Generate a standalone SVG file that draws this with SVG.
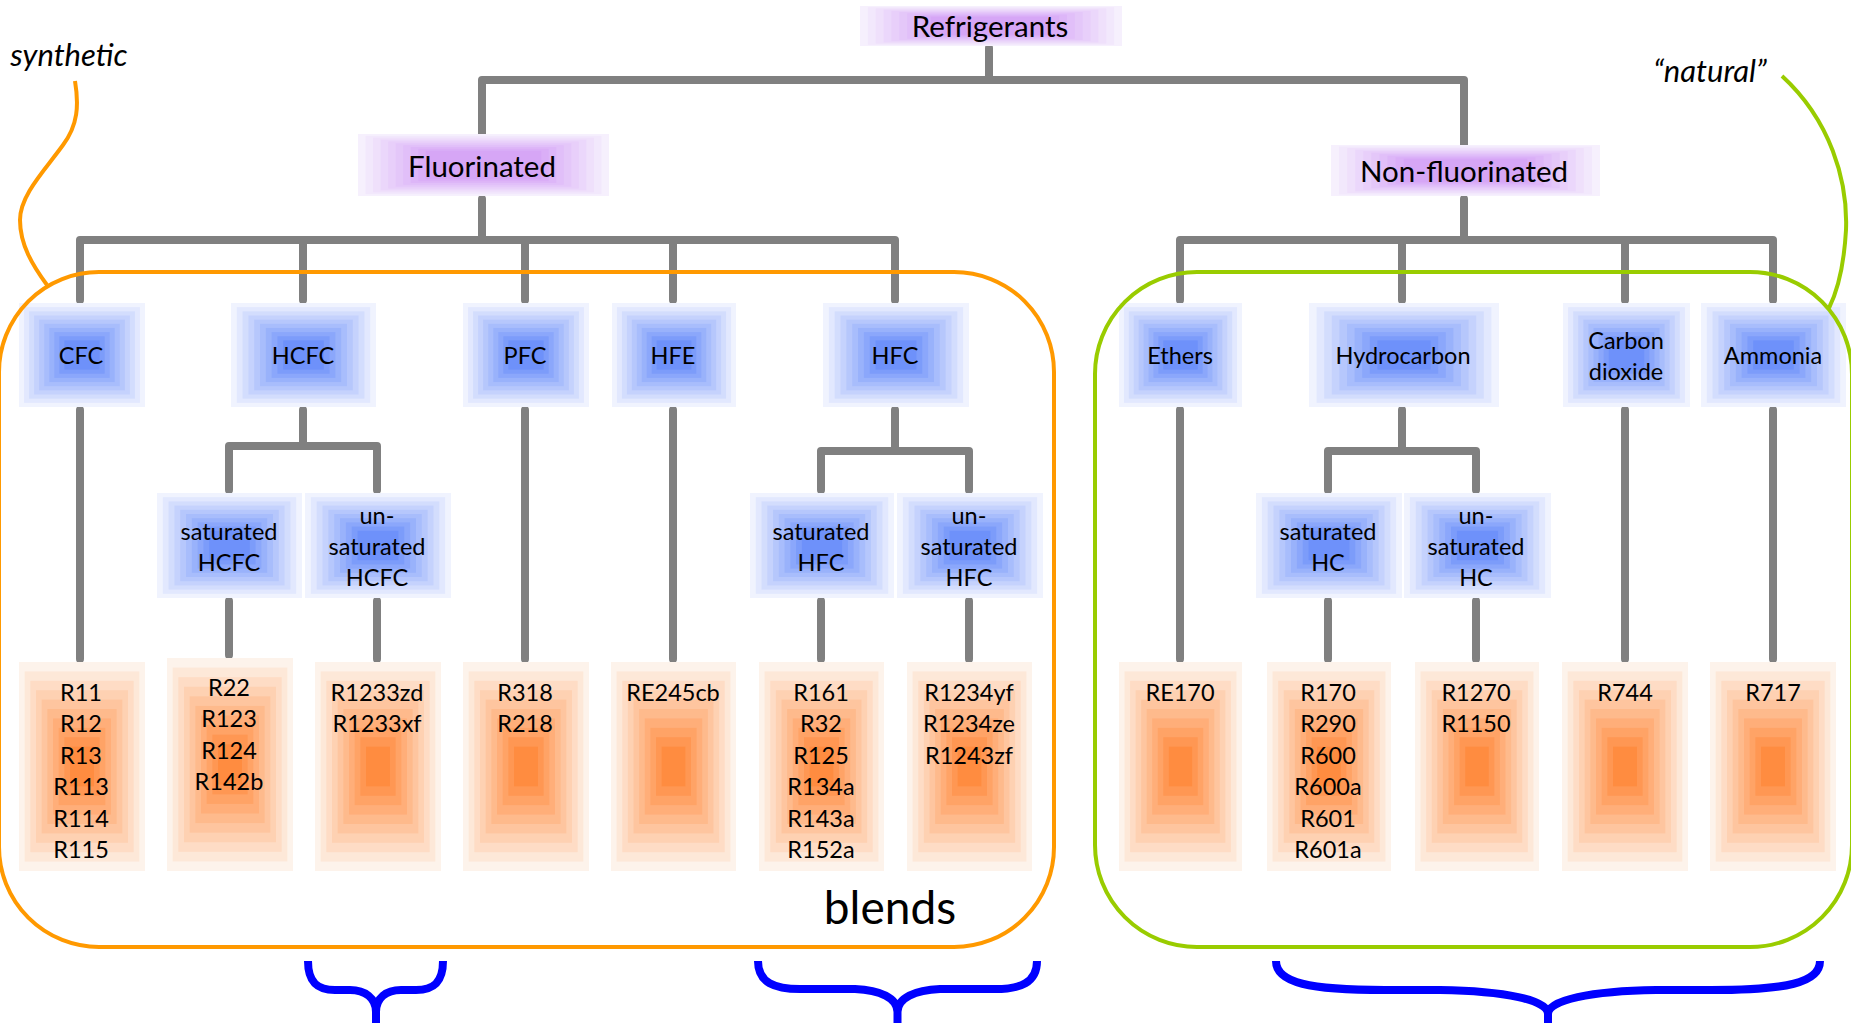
<svg xmlns="http://www.w3.org/2000/svg" xmlns:xlink="http://www.w3.org/1999/xlink" width="1851" height="1023" viewBox="0 0 1851 1023">
<style>
.t{font-family:Lato,'Liberation Sans',sans-serif;font-size:23.5px;fill:#000;text-anchor:middle}
.big{font-size:29.5px}
.ann{font-style:italic;font-size:31px}
.blends{font-size:46px}
.conn{stroke:#808080;stroke-width:8;fill:none;stroke-linecap:round;stroke-linejoin:round}
.fo{fill:none;stroke:#FF9900;stroke-width:4}
.fg{fill:none;stroke:#99CC00;stroke-width:4}
.brace{fill:none;stroke:#0000FF;stroke-width:8}
</style>
<defs>
<symbol id="gOrange" viewBox="0 0 100 100" preserveAspectRatio="none">
<rect x="0" y="0" width="100" height="100" fill="#FDF3EB"/>
<rect x="4.5" y="4.5" width="91" height="91" fill="#FDE8D8"/>
<rect x="9" y="9" width="82" height="82" fill="#FEDCC5"/>
<rect x="13.5" y="13.5" width="73" height="73" fill="#FED1B2"/>
<rect x="18" y="18" width="64" height="64" fill="#FEC59F"/>
<rect x="22.5" y="22.5" width="55" height="55" fill="#FEBA8C"/>
<rect x="27" y="27" width="46" height="46" fill="#FFAE79"/>
<rect x="31.5" y="31.5" width="37" height="37" fill="#FFA366"/>
<rect x="36" y="36" width="28" height="28" fill="#FF9753"/>
<rect x="40.5" y="40.5" width="19" height="19" fill="#FF8C40"/>
</symbol>
<symbol id="gBlue" viewBox="0 0 100 100" preserveAspectRatio="none">
<rect x="0" y="0" width="100" height="100" fill="#F0F3FE"/>
<rect x="4" y="4" width="92" height="92" fill="#E2E8FE"/>
<rect x="8" y="8" width="84" height="84" fill="#D3DDFD"/>
<rect x="12" y="12" width="76" height="76" fill="#C5D2FD"/>
<rect x="16" y="16" width="68" height="68" fill="#B6C7FC"/>
<rect x="20" y="20" width="60" height="60" fill="#A8BDFC"/>
<rect x="24" y="24" width="52" height="52" fill="#99B2FB"/>
<rect x="28" y="28" width="44" height="44" fill="#8BA7FB"/>
<rect x="32" y="32" width="36" height="36" fill="#7C9CFA"/>
<rect x="36" y="36" width="28" height="28" fill="#6E91FA"/>
</symbol>
<symbol id="gPurple" viewBox="0 0 100 100" preserveAspectRatio="none">
<rect x="0" y="0" width="100" height="100" fill="#F6F0FD"/>
<rect x="3" y="3" width="94" height="94" fill="#F2E8FC"/>
<rect x="6" y="6" width="88" height="88" fill="#EFE0FB"/>
<rect x="9" y="9" width="82" height="82" fill="#EBD7FB"/>
<rect x="12" y="12" width="76" height="76" fill="#E8CFFA"/>
<rect x="15" y="15" width="70" height="70" fill="#E4C7F9"/>
<rect x="18" y="18" width="64" height="64" fill="#E1BFF9"/>
<rect x="21" y="21" width="58" height="58" fill="#DDB6F8"/>
<rect x="24" y="24" width="52" height="52" fill="#DAAEF7"/>
<rect x="27" y="27" width="46" height="46" fill="#D6A6F6"/>
</symbol>
</defs>
<rect width="1851" height="1023" fill="#FFFFFF"/>

<g id="connectors" class="conn">
<path d="M989 48V80"/>
<path d="M482 137V80H1464V148"/>
<path d="M482 199V240"/>
<path d="M80 300V240H895V300"/>
<path d="M303 240V300M525 240V300M673 240V300"/>
<path d="M1464 199V240"/>
<path d="M1180 300V240H1773V300"/>
<path d="M1402 240V300M1625 240V300"/>
<path d="M80 410V659M525 410V659M673 410V659M1180 410V659M1625 410V659M1773 410V659"/>
<path d="M303 410V446M229 490V446H377V490"/>
<path d="M229 601V655M377 601V659"/>
<path d="M895 410V451M821 490V451H969V490"/>
<path d="M821 601V659M969 601V659"/>
<path d="M1402 410V451M1328 490V451H1476V490"/>
<path d="M1328 601V659M1476 601V659"/>
</g>

<g id="n-refrigerants"><use href="#gPurple" x="860" y="6" width="262" height="40"/><text class="t big" x="990" y="37">Refrigerants</text></g>
<g id="n-fluorinated"><use href="#gPurple" x="358" y="134" width="251" height="62"/><text class="t big" x="482" y="177">Fluorinated</text></g>
<g id="n-nonfluorinated"><use href="#gPurple" x="1331" y="145" width="269" height="51"/><text class="t big" x="1464" y="182">Non-fluorinated</text></g>

<g id="n-cfc"><use href="#gBlue" x="19" y="303" width="126" height="104"/><text class="t" x="81" y="364">CFC</text></g>
<g id="n-hcfc"><use href="#gBlue" x="231" y="303" width="145" height="104"/><text class="t" x="303" y="364">HCFC</text></g>
<g id="n-pfc"><use href="#gBlue" x="463" y="303" width="126" height="104"/><text class="t" x="525" y="364">PFC</text></g>
<g id="n-hfe"><use href="#gBlue" x="612" y="303" width="124" height="104"/><text class="t" x="673" y="364">HFE</text></g>
<g id="n-hfc"><use href="#gBlue" x="823" y="303" width="146" height="104"/><text class="t" x="895" y="364">HFC</text></g>
<g id="n-ethers"><use href="#gBlue" x="1119" y="303" width="123" height="104"/><text class="t" x="1180" y="364">Ethers</text></g>
<g id="n-hydrocarbon"><use href="#gBlue" x="1309" y="303" width="190" height="104"/><text class="t" x="1403" y="364">Hydrocarbon</text></g>
<g id="n-co2"><use href="#gBlue" x="1563" y="303" width="127" height="104"/><text class="t" x="1626" y="349">Carbon<tspan x="1626" dy="31">dioxide</tspan></text></g>
<g id="n-ammonia"><use href="#gBlue" x="1701" y="303" width="145" height="104"/><text class="t" x="1773" y="364">Ammonia</text></g>

<g id="n-sat-hcfc"><use href="#gBlue" x="157" y="493" width="145" height="105"/><text class="t" x="229" y="540">saturated<tspan x="229" dy="31">HCFC</tspan></text></g>
<g id="n-unsat-hcfc"><use href="#gBlue" x="305" y="493" width="146" height="105"/><text class="t" x="377" y="524">un-<tspan x="377" dy="31">saturated</tspan><tspan x="377" dy="31">HCFC</tspan></text></g>
<g id="n-sat-hfc"><use href="#gBlue" x="750" y="493" width="144" height="105"/><text class="t" x="821" y="540">saturated<tspan x="821" dy="31">HFC</tspan></text></g>
<g id="n-unsat-hfc"><use href="#gBlue" x="897" y="493" width="146" height="105"/><text class="t" x="969" y="524">un-<tspan x="969" dy="31">saturated</tspan><tspan x="969" dy="31">HFC</tspan></text></g>
<g id="n-sat-hc"><use href="#gBlue" x="1256" y="493" width="146" height="105"/><text class="t" x="1328" y="540">saturated<tspan x="1328" dy="31">HC</tspan></text></g>
<g id="n-unsat-hc"><use href="#gBlue" x="1404" y="493" width="147" height="105"/><text class="t" x="1476" y="524">un-<tspan x="1476" dy="31">saturated</tspan><tspan x="1476" dy="31">HC</tspan></text></g>

<g id="r-cfc"><use href="#gOrange" x="19" y="662" width="126" height="209"/><text class="t" x="81" y="701">R11<tspan x="81" dy="31.4">R12</tspan><tspan x="81" dy="31.4">R13</tspan><tspan x="81" dy="31.4">R113</tspan><tspan x="81" dy="31.4">R114</tspan><tspan x="81" dy="31.4">R115</tspan></text></g>
<g id="r-sat-hcfc"><use href="#gOrange" x="167" y="658" width="126" height="213"/><text class="t" x="229" y="696">R22<tspan x="229" dy="31.4">R123</tspan><tspan x="229" dy="31.4">R124</tspan><tspan x="229" dy="31.4">R142b</tspan></text></g>
<g id="r-unsat-hcfc"><use href="#gOrange" x="315" y="662" width="126" height="209"/><text class="t" x="377" y="701">R1233zd<tspan x="377" dy="31.4">R1233xf</tspan></text></g>
<g id="r-pfc"><use href="#gOrange" x="463" y="662" width="126" height="209"/><text class="t" x="525" y="701">R318<tspan x="525" dy="31.4">R218</tspan></text></g>
<g id="r-hfe"><use href="#gOrange" x="611" y="662" width="125" height="209"/><text class="t" x="673" y="701">RE245cb</text></g>
<g id="r-sat-hfc"><use href="#gOrange" x="759" y="662" width="125" height="209"/><text class="t" x="821" y="701">R161<tspan x="821" dy="31.4">R32</tspan><tspan x="821" dy="31.4">R125</tspan><tspan x="821" dy="31.4">R134a</tspan><tspan x="821" dy="31.4">R143a</tspan><tspan x="821" dy="31.4">R152a</tspan></text></g>
<g id="r-unsat-hfc"><use href="#gOrange" x="907" y="662" width="125" height="209"/><text class="t" x="969" y="701">R1234yf<tspan x="969" dy="31.4">R1234ze</tspan><tspan x="969" dy="31.4">R1243zf</tspan></text></g>
<g id="r-ethers"><use href="#gOrange" x="1119" y="662" width="123" height="209"/><text class="t" x="1180" y="701">RE170</text></g>
<g id="r-sat-hc"><use href="#gOrange" x="1267" y="662" width="124" height="209"/><text class="t" x="1328" y="701">R170<tspan x="1328" dy="31.4">R290</tspan><tspan x="1328" dy="31.4">R600</tspan><tspan x="1328" dy="31.4">R600a</tspan><tspan x="1328" dy="31.4">R601</tspan><tspan x="1328" dy="31.4">R601a</tspan></text></g>
<g id="r-unsat-hc"><use href="#gOrange" x="1415" y="662" width="124" height="209"/><text class="t" x="1476" y="701">R1270<tspan x="1476" dy="31.4">R1150</tspan></text></g>
<g id="r-co2"><use href="#gOrange" x="1562" y="662" width="126" height="209"/><text class="t" x="1625" y="701">R744</text></g>
<g id="r-ammonia"><use href="#gOrange" x="1710" y="662" width="126" height="209"/><text class="t" x="1773" y="701">R717</text></g>

<g id="groups">
<rect class="fo" x="-1" y="272" width="1055" height="675" rx="100" ry="100"/>
<rect class="fg" x="1095" y="272" width="757" height="675" rx="102" ry="102"/>
<text class="t blends" x="890" y="924">blends</text>
</g>

<g id="annotations">
<text class="t ann" x="69" y="66">synthetic</text>
<path class="fo" d="M75 81C79 105 78 125 63 145C45 170 20 195 20 220C20 245 33 266 47 285"/>
<text class="t ann" x="1710" y="82">“natural”</text>
<path class="fg" d="M1782 76C1830 120 1848 180 1846 230C1844 265 1838 290 1829 308"/>
</g>

<g id="braces" class="brace">
<path d="M308 961C308 983 318 990 335 990L350 990C365 990 376 998 376 1012L376 1030M443 961C443 983 433 990 416 990L401 990C386 990 376 998 376 1012"/>
<path d="M758 961C758 983 775 989 800 989L855 989C880 990 897.5 998 897.5 1012L897.5 1030M1037 961C1037 983 1020 989 995 989L940 989C915 990 897.5 998 897.5 1012"/>
<path d="M1276 961C1276 983 1310 990 1385 990L1440 990C1505 991 1548 1000 1548 1014L1548 1030M1820 961C1820 983 1786 990 1711 990L1656 990C1591 991 1548 1000 1548 1014"/>
</g>
</svg>
